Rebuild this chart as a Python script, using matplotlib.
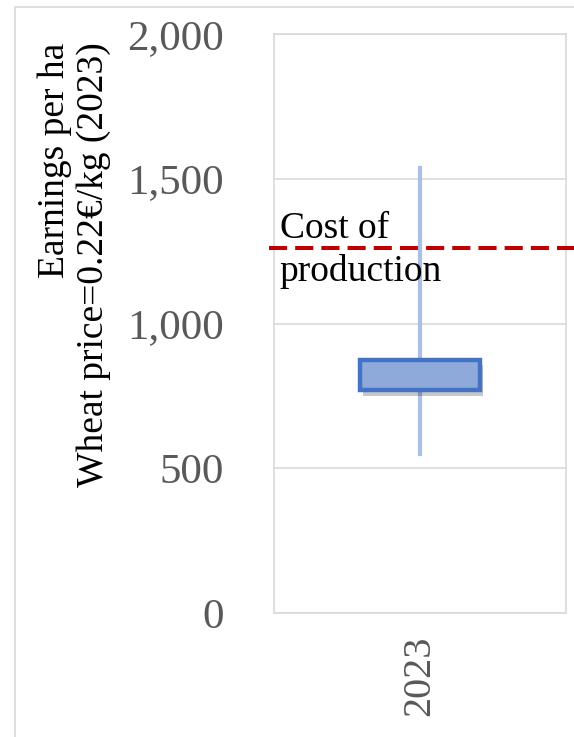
import matplotlib
matplotlib.use("Agg")
import matplotlib.pyplot as plt
import matplotlib.patches as mpatches
import matplotlib.patheffects as pe
from matplotlib.ticker import FuncFormatter

plt.rcParams['font.family'] = ['Liberation Serif', 'DejaVu Serif']

# data
years = ["2023"]
whisker_low = [549]
q1 = [770]
q3 = [875]
whisker_high = [1537]
cost_of_production = 1261
y_ticks = [0, 500, 1000, 1500, 2000]

fig = plt.figure(figsize=(5.74, 7.37), dpi=100)
ax = fig.add_axes([274 / 574, 1 - 613 / 737, 292 / 574, (613 - 34) / 737])

# outer chart frame
fig.patches.append(mpatches.Rectangle((15 / 574, -0.05), 1.1, 1 - 7 / 737 + 0.05,
                                      transform=fig.transFigure, fill=False,
                                      edgecolor="#d9d9d9", lw=1.2, zorder=0))

stats = [dict(label=years[i], whislo=whisker_low[i], q1=q1[i], med=q1[i],
              q3=q3[i], whishi=whisker_high[i]) for i in range(len(years))]
bp = ax.bxp(stats, positions=[0], widths=0.41, patch_artist=True,
            showcaps=False, showfliers=False,
            boxprops=dict(facecolor="#8eaadb", edgecolor="#4472c4", linewidth=3.2),
            whiskerprops=dict(color="#a8bfe6", linewidth=3.0),
            medianprops=dict(linewidth=0))
for b in bp["boxes"]:
    b.set_zorder(4)
    b.set_path_effects([pe.SimplePatchShadow(offset=(2, -4), shadow_rgbFace="#000000", alpha=0.22),
                        pe.Normal()])
for w in bp["whiskers"]:
    w.set_zorder(3)

ax.plot([-0.017, 1.03], [cost_of_production, cost_of_production],
        transform=ax.get_yaxis_transform(), clip_on=False,
        color="#c00000", lw=2.9, dashes=(4.5, 2), zorder=5)
ax.text(0.02, cost_of_production + 8, "Cost of", transform=ax.get_yaxis_transform(),
        fontsize=27, va="bottom", ha="left", zorder=6)
ax.text(0.02, cost_of_production - 22, "production", transform=ax.get_yaxis_transform(),
        fontsize=27, va="top", ha="left", zorder=6)

ax.set_xlim(-0.5, 0.5)
ax.set_ylim(0, 2000)
ax.set_yticks(y_ticks)
ax.yaxis.set_major_formatter(FuncFormatter(lambda v, p: f"{int(v):,}"))
ax.tick_params(axis="y", length=0, pad=36, labelsize=31, labelcolor="#595959")
ax.tick_params(axis="x", length=0, pad=16, labelsize=29, labelcolor="#595959",
               labelrotation=90)
ax.set_xticks([0])
ax.set_xticklabels(years)
ax.grid(axis="y", color="#d9d9d9", lw=1.2)
ax.set_axisbelow(True)
for s in ax.spines.values():
    s.set_color("#d9d9d9")
    s.set_linewidth(1.2)

fig.text(74 / 574, 1 - 265 / 737, "Earnings per ha\nWheat price=0.22€/kg (2023)",
         rotation=90, ha="center", va="center", fontsize=27, linespacing=1.15,
         multialignment="right")

fig.savefig("out.png", dpi=100)
